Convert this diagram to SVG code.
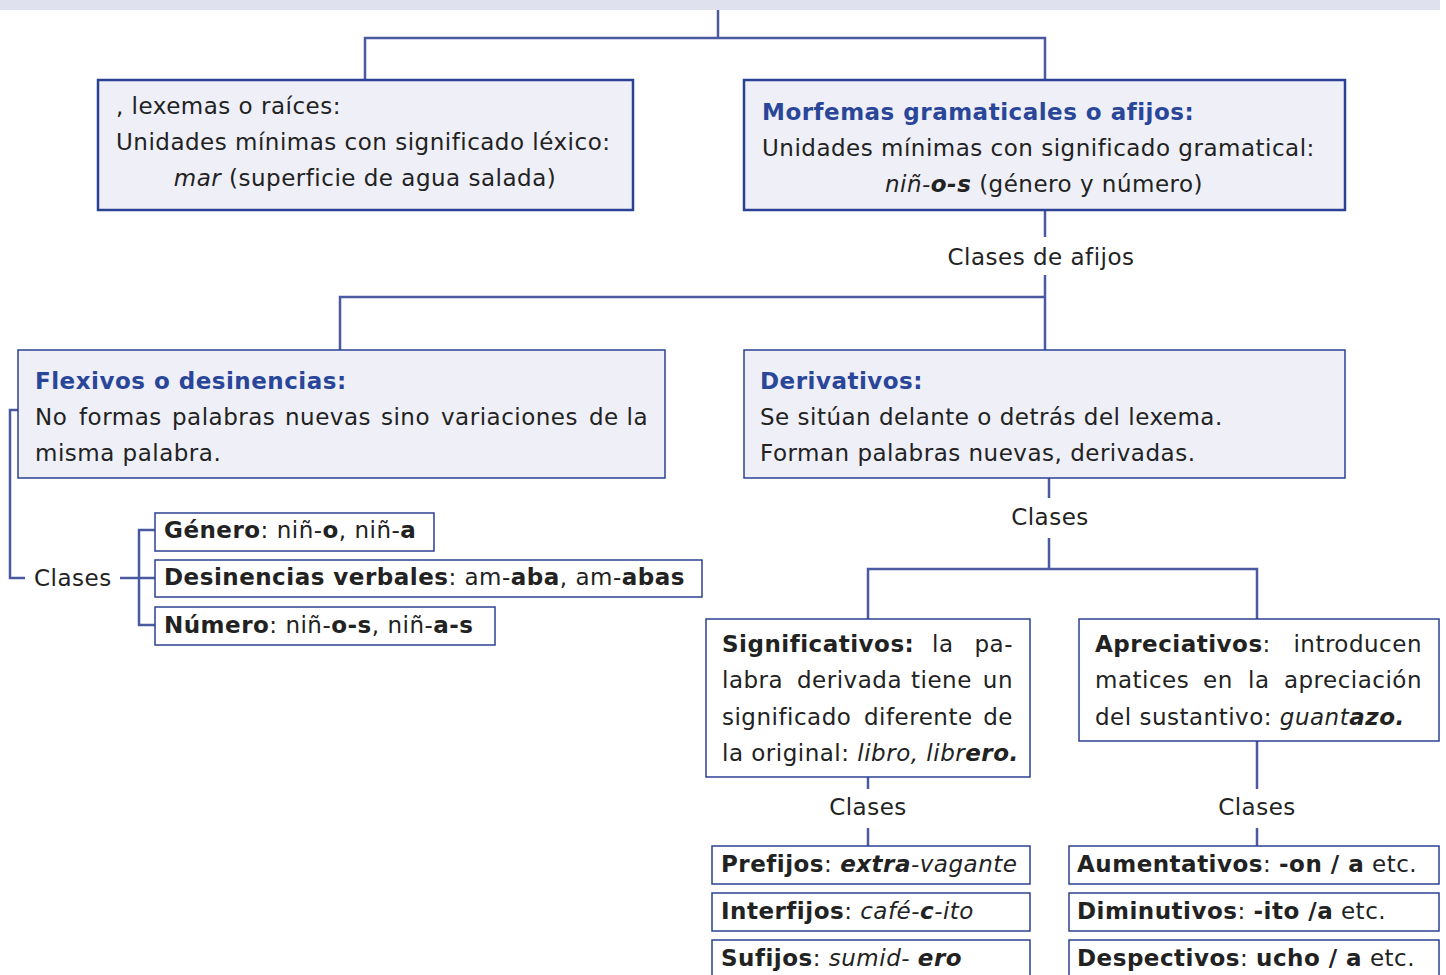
<svg xmlns="http://www.w3.org/2000/svg" width="1446" height="975" viewBox="0 0 1446 975">
<style>
text{font-family:"DejaVu Sans","Verdana",sans-serif;font-size:23px;letter-spacing:0.5px;fill:#222}
.t{font-weight:bold;fill:#2a4699}
.b{font-weight:bold}
.i{font-style:italic}
.bi{font-weight:bold;font-style:italic}
.big{fill:#eeeff7;stroke:#2b4193;stroke-width:2.5}
.mid{fill:#eeeff7;stroke:#2b4193;stroke-width:1.5}
.sm{fill:#fff;stroke:#2b4193;stroke-width:1.5}
.c{fill:none;stroke:#4a5aa0;stroke-width:2.5}
</style>
<rect x="0" y="0" width="1440" height="10" fill="#dfe1ee"/>
<g id="connectors">
<path class="c" d="M718 10V38M365 80V38H1045V80"/>
<path class="c" d="M1045 210V237M340 350V297H1045M1045 275V350"/>
<path class="c" d="M18 410H10V578H25M120 578H156M156 530H139V625H156"/>
<path class="c" d="M1049 478V498M1049 538V569M868 620V569H1257V620"/>
<path class="c" d="M868 777V789M868 828V846M1257 741V789M1257 828V846"/>
</g>
<g id="lexemas">
<rect class="big" x="98" y="80" width="535" height="130"/>
<text x="116" y="114">, lexemas o raíces:</text>
<text x="116" y="150">Unidades mínimas con significado léxico:</text>
<text x="365" y="186" text-anchor="middle"><tspan class="i">mar</tspan> (superficie de agua salada)</text>
</g>
<g id="morfemas">
<rect class="big" x="744" y="80" width="601" height="130"/>
<text x="762" y="120" class="t">Morfemas gramaticales o afijos:</text>
<text x="762" y="156">Unidades mínimas con significado gramatical:</text>
<text x="1044" y="192" text-anchor="middle"><tspan class="i">niñ-</tspan><tspan class="bi">o-s</tspan> (género y número)</text>
</g>
<g id="clases-afijos"><text x="1041" y="265" text-anchor="middle">Clases de afijos</text></g>
<g id="flexivos">
<rect class="mid" x="18" y="350" width="647" height="128"/>
<text x="35" y="389" class="t">Flexivos o desinencias:</text>
<text y="425"><tspan x="35">No</tspan><tspan x="79">formas</tspan><tspan x="172">palabras</tspan><tspan x="285">nuevas</tspan><tspan x="381">sino</tspan><tspan x="441">variaciones</tspan><tspan x="589">de</tspan></text>
<text x="648" y="425" text-anchor="end">la</text>
<text x="35" y="461">misma palabra.</text>
</g>
<g id="derivativos">
<rect class="mid" x="744" y="350" width="601" height="128"/>
<text x="760" y="389" class="t">Derivativos:</text>
<text x="760" y="425">Se sitúan delante o detrás del lexema.</text>
<text x="760" y="461">Forman palabras nuevas, derivadas.</text>
</g>
<g id="clases-flex"><text x="34" y="586">Clases</text></g>
<g id="genero">
<rect class="sm" x="155" y="513" width="279" height="38"/>
<text x="164" y="538"><tspan class="b">Género</tspan>: niñ-<tspan class="b">o</tspan>, niñ-<tspan class="b">a</tspan></text>
</g>
<g id="desinencias">
<rect class="sm" x="155" y="560" width="547" height="37"/>
<text x="164" y="585"><tspan class="b">Desinencias verbales</tspan>: am-<tspan class="b">aba</tspan>, am-<tspan class="b">abas</tspan></text>
</g>
<g id="numero">
<rect class="sm" x="155" y="607" width="340" height="38"/>
<text x="164" y="633"><tspan class="b">Número</tspan>: niñ-<tspan class="b">o-s</tspan>, niñ-<tspan class="b">a-s</tspan></text>
</g>
<g id="clases-deriv"><text x="1050" y="525" text-anchor="middle">Clases</text></g>
<g id="significativos">
<rect class="sm" x="706" y="619" width="324" height="158"/>
<text y="652"><tspan x="722" class="b">Significativos:</tspan><tspan x="932">la</tspan></text>
<text x="1013" y="652" text-anchor="end">pa-</text>
<text y="688"><tspan x="722">labra</tspan><tspan x="797">derivada</tspan><tspan x="911">tiene</tspan></text>
<text x="1013" y="688" text-anchor="end">un</text>
<text y="725"><tspan x="722">significado</tspan><tspan x="864">diferente</tspan></text>
<text x="1013" y="725" text-anchor="end">de</text>
<text x="722" y="761">la original: <tspan class="i">libro, libr</tspan><tspan class="bi">ero.</tspan></text>
</g>
<g id="apreciativos">
<rect class="sm" x="1079" y="619" width="360" height="122"/>
<text x="1095" y="652"><tspan class="b">Apreciativos</tspan>:</text>
<text x="1422" y="652" text-anchor="end">introducen</text>
<text y="688"><tspan x="1095">matices</tspan><tspan x="1203">en</tspan><tspan x="1248">la</tspan></text>
<text x="1422" y="688" text-anchor="end">apreciación</text>
<text x="1095" y="725">del sustantivo: <tspan class="i">guant</tspan><tspan class="bi">azo.</tspan></text>
</g>
<g id="clases-sig"><text x="868" y="815" text-anchor="middle">Clases</text></g>
<g id="clases-apr"><text x="1257" y="815" text-anchor="middle">Clases</text></g>
<g id="prefijos">
<rect class="sm" x="712" y="846" width="318" height="38"/>
<text x="721" y="872"><tspan class="b">Prefijos</tspan>: <tspan class="bi">extra</tspan><tspan class="i">-vagante</tspan></text>
</g>
<g id="interfijos">
<rect class="sm" x="712" y="893" width="318" height="38"/>
<text x="721" y="919"><tspan class="b">Interfijos</tspan>: <tspan class="i">café-</tspan><tspan class="bi">c</tspan><tspan class="i">-ito</tspan></text>
</g>
<g id="sufijos">
<rect class="sm" x="712" y="940" width="318" height="40"/>
<text x="721" y="966"><tspan class="b">Sufijos</tspan>: <tspan class="i">sumid- </tspan><tspan class="bi">ero</tspan></text>
</g>
<g id="aumentativos">
<rect class="sm" x="1069" y="846" width="370" height="38"/>
<text x="1077" y="872"><tspan class="b">Aumentativos</tspan>: <tspan class="b">-on / a</tspan> etc.</text>
</g>
<g id="diminutivos">
<rect class="sm" x="1069" y="893" width="370" height="38"/>
<text x="1077" y="919"><tspan class="b">Diminutivos</tspan>: <tspan class="b">-ito /a</tspan> etc.</text>
</g>
<g id="despectivos">
<rect class="sm" x="1069" y="940" width="370" height="40"/>
<text x="1077" y="966"><tspan class="b">Despectivos</tspan>: <tspan class="b">ucho / a</tspan> etc.</text>
</g>
</svg>
